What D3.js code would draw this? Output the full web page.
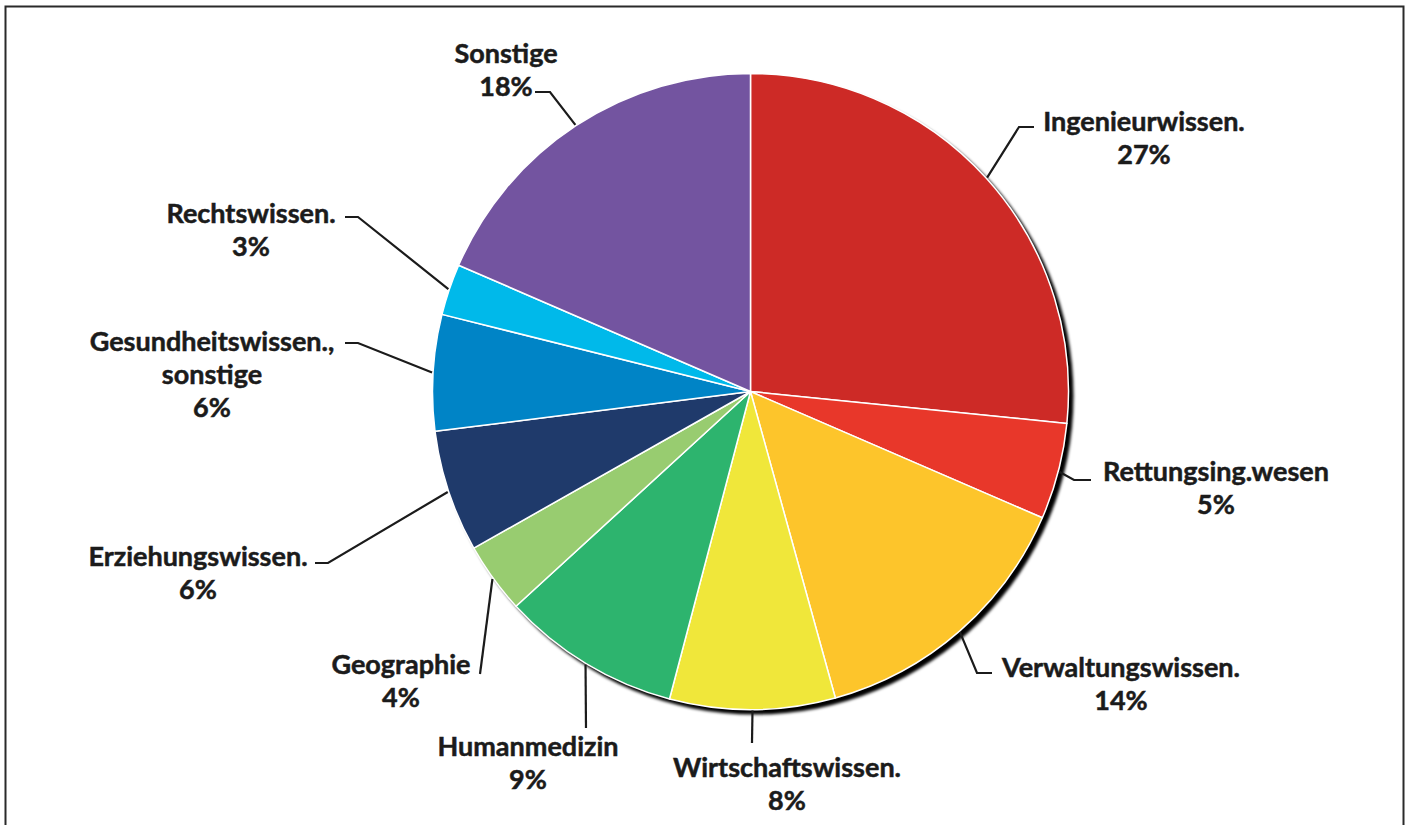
<!DOCTYPE html>
<html>
<head>
<meta charset="utf-8">
<script src="https://cdn.jsdelivr.net/npm/d3@7"></script>
<style>
  body { margin: 0; background: #fff; }
  svg { display: block; }
  .lbl { font-family: Lato, "Open Sans", sans-serif; font-weight: 700; font-size: 27px; fill: #1b1b1b; stroke: #1b1b1b; stroke-width: 0.5; }
  .leader { fill: none; stroke: #1b1b1b; stroke-width: 2.2; }
</style>
</head>
<body>
<svg id="chart" width="1410" height="825"></svg>
<script>
// slices clockwise from 12 o'clock
var categories = ["Ingenieurwissen.", "Rettungsing.wesen", "Verwaltungswissen.", "Wirtschaftswissen.",
                  "Humanmedizin", "Geographie", "Erziehungswissen.", "Gesundheitswissen.,|sonstige",
                  "Rechtswissen.", "Sonstige"];
var shares = [26.6, 4.9, 14.2, 8.4, 9.1, 3.6, 6.2, 5.9, 2.6, 18.5];
var percentText = ["27%", "5%", "14%", "8%", "9%", "4%", "6%", "6%", "3%", "18%"];
var colors = ["#cd2a26", "#e8372a", "#fdc52b", "#f0e73a", "#2db46e", "#98cc70", "#1f3a6b", "#0084c6", "#00b9ea", "#7354a0"];

var width = 1410, height = 825;
var cx = 750.5, cy = 391.5, radius = 318;
var lineH = 33;

// label layout: text centre x, first baseline y, leader elbow/end points
var labelLayout = [
  {x: 1144, y: 131, pts: [[1019, 127], [1034, 127]]},
  {x: 1216, y: 481, pts: [[1074, 480], [1091, 480]]},
  {x: 1121, y: 677, pts: [[977, 673], [992, 673]]},
  {x: 787,  y: 777, pts: [[752, 743]]},
  {x: 528,  y: 756, pts: [[586, 728]]},
  {x: 401,  y: 674, pts: [[480, 674]]},
  {x: 198,  y: 566, pts: [[328, 563], [315, 563]]},
  {x: 212,  y: 351, pts: [[358, 343], [345, 343]]},
  {x: 251,  y: 223, pts: [[358, 217], [345, 217]]},
  {x: 506,  y: 63,  pts: [[550, 92], [535, 92]]}
];

var svg = d3.select("#chart");

// frame
svg.append("rect")
    .attr("x", 5.5).attr("y", 6.5)
    .attr("width", 1398).attr("height", 840)
    .attr("fill", "none")
    .attr("stroke", "#2a2a2a")
    .attr("stroke-width", 2);

var defs = svg.append("defs");
defs.append("filter").attr("id", "blur")
    .attr("x", "-10%").attr("y", "-10%").attr("width", "120%").attr("height", "120%")
  .append("feGaussianBlur").attr("stdDeviation", 1.8);

var data = categories.map(function(c, i) {
    return {name: c, value: shares[i], pct: percentText[i], color: colors[i], layout: labelLayout[i]};
});

var pie = d3.pie().sort(null).value(function(d) { return d.value; });
var arcs = pie(data);

var arc = d3.arc().innerRadius(0).outerRadius(radius);
var edgeArc = d3.arc().innerRadius(radius + 1).outerRadius(radius + 1);

var g = svg.append("g").attr("transform", "translate(" + cx + "," + cy + ")");

// drop shadow
g.append("circle")
    .attr("cx", 4.5).attr("cy", 4.5)
    .attr("r", radius + 0.5)
    .attr("fill", "#000")
    .attr("filter", "url(#blur)");

g.selectAll("path.slice")
    .data(arcs)
    .enter().append("path")
    .attr("class", "slice")
    .attr("d", arc)
    .attr("fill", function(d) { return d.data.color; })
    .attr("stroke", "#fff")
    .attr("stroke-width", 1.5)
    .attr("stroke-linejoin", "round");

// leader lines
var line = d3.line();
svg.selectAll("path.leader")
    .data(arcs)
    .enter().append("path")
    .attr("class", "leader")
    .attr("d", function(d) {
        var c = edgeArc.centroid(d);
        var pts = [[cx + c[0], cy + c[1]]].concat(d.data.layout.pts);
        return line(pts);
    });

// labels
var labels = svg.selectAll("text.lbl")
    .data(arcs)
    .enter().append("text")
    .attr("class", "lbl")
    .attr("text-anchor", "middle");

labels.each(function(d) {
    var t = d3.select(this);
    var lines = d.data.name.split("|").concat([d.data.pct]);
    lines.forEach(function(s, i) {
        t.append("tspan")
            .attr("x", d.data.layout.x)
            .attr("y", d.data.layout.y + i * lineH)
            .text(s);
    });
});
</script>
</body>
</html>
